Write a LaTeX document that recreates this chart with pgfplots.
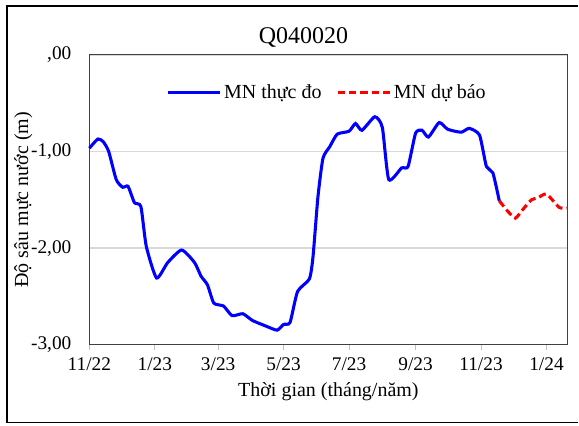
\documentclass[border=0pt]{standalone}
\usepackage{pgfplots}
\pgfplotsset{compat=1.18}
\usepackage{fontspec}
\setmainfont{Liberation Serif}
\begin{document}
\begin{tikzpicture}
\begin{axis}[
  width=358.9pt, height=217.5pt, scale only axis,
  xmin=0, xmax=445.5, ymin=-3, ymax=0,
  clip=false,
  axis line style={black!75, line width=0.7pt},
  xtick={0,61,120,181,242,304,365,426},
  xticklabels={11/22,1/23,3/23,5/23,7/23,9/23,11/23,1/24},
  ytick={-3,-2,-1,0},
  yticklabels={{-3,00},{-2,00},{-1,00},{,00}},
  xtick pos=bottom, ytick pos=left,
  xtick style={draw=black!25, line width=0.6pt},
  tick align=outside,
  major tick length=4pt,
  ytick style={draw=none},
  ymajorgrids, grid style={draw=black!15, line width=0.9pt},
  tick label style={font=\fontsize{14.5}{17}\selectfont, text=black},
  xticklabel style={yshift=-2pt},
  yticklabel style={xshift=-6pt},
  xlabel={Thời gian (tháng/năm)},
  ylabel={Độ sâu mực nước (m)},
  label style={font=\fontsize{15}{18}\selectfont},
  xlabel style={at={(rel axis cs:0.5,-0.162)}, anchor=center},
  ylabel style={at={(rel axis cs:-0.138,0.5)}, anchor=center, rotate=0},
  title={Q040020},
  title style={font=\fontsize{18}{21}\selectfont, at={(rel axis cs:0.448,1)}, anchor=base, yshift=2.5pt},
  legend columns=2,
  legend style={draw=none, fill=none, at={(rel axis cs:0.498,0.869)}, anchor=center,
    font=\fontsize{15}{18}\selectfont,
    /tikz/every even column/.append style={column sep=9pt}},
  legend image code/.code={\draw[#1] (0pt,0pt) -- (39pt,0pt);},
]
\addplot[blue, line width=2.3pt, smooth, tension=0.35] coordinates {
(0,-0.965) (8,-0.87) (13,-0.90) (18,-1.00) (25,-1.29) (31,-1.37) (36,-1.36)
(42,-1.53) (48,-1.57) (53,-1.98) (62.6,-2.31) (73,-2.15) (86,-2.02) (98,-2.15)
(104,-2.29) (110,-2.38) (116,-2.57) (125,-2.60) (133,-2.70) (143,-2.68)
(152,-2.75) (165,-2.81) (175,-2.85) (181,-2.79) (187,-2.77) (194,-2.45)
(205,-2.32) (208.4,-2.09) (213,-1.47) (217.7,-1.07) (224,-0.95) (231,-0.82)
(242,-0.79) (248,-0.71) (254,-0.78) (266,-0.64) (273,-0.75) (279,-1.29)
(291,-1.17) (297,-1.155) (304,-0.81) (310,-0.78) (316,-0.85) (326,-0.70)
(334,-0.77) (346.5,-0.80) (354,-0.76) (363.6,-0.83) (370,-1.155) (376,-1.22)
(382,-1.51)
};
\addlegendentry{MN thực đo}
\addplot[red, line width=2.3pt, dash pattern=on 5.5pt off 3pt, smooth, tension=0.35] coordinates {
(382,-1.51) (390,-1.62) (397,-1.69) (404,-1.60) (412,-1.50) (418,-1.48)
(426,-1.44) (438,-1.58) (445.5,-1.585)
};
\addlegendentry{MN dự báo}
\draw[black, line width=0.9pt] (rel axis cs:1.0230,-0.269) -- (rel axis cs:-0.1724,-0.269) -- (rel axis cs:-0.1724,1.169) -- (rel axis cs:1.0230,1.169);
\path (rel axis cs:-0.187,-0.2793) rectangle (rel axis cs:1.0230,1.1897);
\end{axis}
\end{tikzpicture}
\end{document}
